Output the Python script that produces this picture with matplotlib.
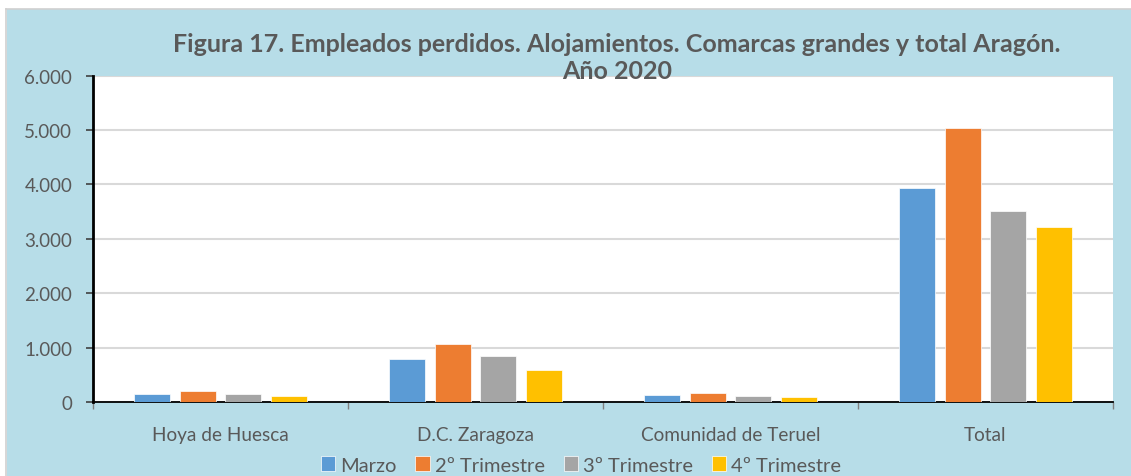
import matplotlib
matplotlib.use("Agg")
import matplotlib.pyplot as plt
import numpy as np
from matplotlib.patches import Rectangle

categories = ["Hoya de Huesca", "D.C. Zaragoza", "Comunidad de Teruel", "Total"]
series_names = ["Marzo", "2º Trimestre", "3º Trimestre", "4º Trimestre"]
marzo = [142, 790, 123, 3928]
trim2 = [202, 1060, 160, 5031]
trim3 = [142, 851, 110, 3506]
trim4 = [105, 594, 97, 3211]
colors = ["#5B9BD5", "#ED7D31", "#A5A5A5", "#FFC000"]
yticks = [0, 1000, 2000, 3000, 4000, 5000, 6000]
ytick_labels = ["0", "1.000", "2.000", "3.000", "4.000", "5.000", "6.000"]
title = "Figura 17. Empleados perdidos. Alojamientos. Comarcas grandes y total Aragón.\nAño 2020"

W, H = 1131, 477
fig = plt.figure(figsize=(W / 100, H / 100), dpi=100)
fig.patch.set_facecolor("white")
bg = Rectangle((7 / W, 0), 1 - 7 / W, 1 - 10 / H, transform=fig.transFigure,
               facecolor="#B7DDE8", edgecolor="none", zorder=-10)
fig.patches.append(bg)
fig.add_artist(plt.Line2D([6 / W, 6 / W], [0, 1 - 10 / H], transform=fig.transFigure,
                          color="#D0D0D0", lw=1.2))
fig.add_artist(plt.Line2D([6 / W, 1], [1 - 10 / H, 1 - 10 / H], transform=fig.transFigure,
                          color="#D0D0D0", lw=1.2))

ax = fig.add_axes([93 / W, 1 - 403 / H, (1113 - 93) / W, (403 - 76.7) / H])
ax.set_facecolor("white")

fam = ["Lato", "DejaVu Sans"]
txtc = "#595959"
x = np.arange(len(categories))
data = [marzo, trim2, trim3, trim4]
pitch = 0.18
width = 0.141
for i, (vals, c, name) in enumerate(zip(data, colors, series_names)):
    ax.bar(x + (i - 1.5) * pitch, vals, width, color=c, label=name,
           edgecolor="white", linewidth=0.5, zorder=3)

ax.set_xlim(-0.5, 3.5)
ax.set_ylim(0, 6000)
ax.set_yticks(yticks)
ax.set_yticklabels(ytick_labels, fontsize=13.5, color=txtc, family=fam)
ax.yaxis.grid(True, color="#D9D9D9", lw=1.5, zorder=0)
ax.set_axisbelow(True)

ax.set_xticks(x)
ax.set_xticklabels(categories, fontsize=13.7, color=txtc, family=fam)
ax.tick_params(axis="x", length=0, pad=17)
ax.set_xticks(np.arange(-0.5, 4.0, 1.0), minor=True)
ax.tick_params(axis="x", which="minor", length=5, width=1, color="#808080", direction="out")
ax.tick_params(axis="y", length=5, width=1.2, color="#404040", pad=10)

for s in ["top", "right"]:
    ax.spines[s].set_visible(False)
ax.spines["left"].set_color("black")
ax.spines["left"].set_linewidth(2)
ax.spines["bottom"].set_color("black")
ax.spines["bottom"].set_linewidth(1.3)

fig.text(617 / W, 1 - 58 / H, title, ha="center", va="center", fontsize=18,
         fontweight="bold", color=txtc, family=fam, linespacing=1.2, zorder=10)

handles, labels = ax.get_legend_handles_labels()
leg = fig.legend(handles, labels, loc="center", bbox_to_anchor=(581 / W, 1 - 466 / H),
                 ncol=4, frameon=False, fontsize=14.5, handlelength=0.7, handleheight=0.7,
                 handletextpad=0.25, columnspacing=0.95, borderaxespad=0)
for t in leg.get_texts():
    t.set_color(txtc)
    t.set_family(fam)

fig.savefig("out.png", dpi=100, facecolor=fig.get_facecolor())
